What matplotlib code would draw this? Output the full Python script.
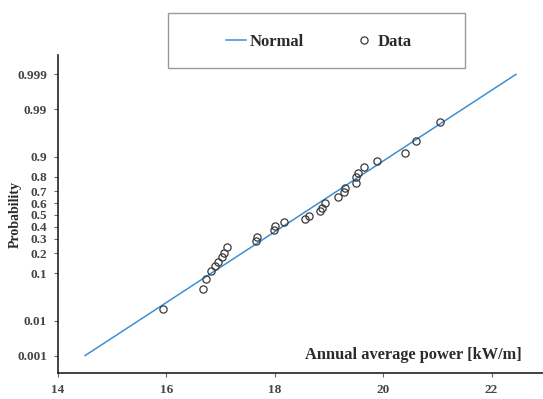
import math
import statistics
import numpy as np
import matplotlib
matplotlib.use("Agg")
import matplotlib.pyplot as plt
from matplotlib.ticker import NullLocator, FixedLocator
from matplotlib.patches import Rectangle

# ---------------- data ----------------
power_kw = [15.94, 16.67, 16.74, 16.82, 16.89, 16.95, 17.02, 17.06, 17.11, 17.65,
            17.68, 17.98, 18.00, 18.17, 18.56, 18.63, 18.83, 18.88, 18.93, 19.17,
            19.28, 19.30, 19.50, 19.50, 19.54, 19.64, 19.88, 20.40, 20.60, 21.05]
probability = [0.019, 0.052, 0.080, 0.109, 0.131, 0.151, 0.178, 0.202, 0.244, 0.284,
               0.314, 0.371, 0.404, 0.439, 0.465, 0.491, 0.531, 0.561, 0.600, 0.650,
               0.693, 0.723, 0.759, 0.798, 0.822, 0.854, 0.882, 0.914, 0.947, 0.980]
normal_x = [14.5, 22.45]
normal_p = [0.001, 0.999]
y_ticks = [0.001, 0.01, 0.1, 0.2, 0.3, 0.4, 0.5, 0.6, 0.7, 0.8, 0.9, 0.99, 0.999]
y_tick_labels = ["0.001", "0.01", "0.1", "0.2", "0.3", "0.4", "0.5", "0.6", "0.7",
                 "0.8", "0.9", "0.99", "0.999"]
x_ticks = [14, 16, 18, 20, 22]

# ---------------- probit scale ----------------
_nd = statistics.NormalDist()


def _ppf(p):
    p = np.asarray(p, dtype=float)
    out = np.full(p.shape, np.nan)
    ok = np.isfinite(p)
    pc = np.clip(p[ok], 1e-12, 1 - 1e-12)
    out[ok] = [_nd.inv_cdf(float(v)) for v in pc]
    return out


_cdf = np.vectorize(lambda z: 0.5 * (1.0 + math.erf(z / math.sqrt(2.0))), otypes=[float])

# ---------------- figure ----------------
W, H = 543, 399
fig = plt.figure(figsize=(W / 100, H / 100), dpi=100)
ax = fig.add_axes([58 / W, 1 - 373 / H, 1 - 58 / W, (373 - 55) / H])

FONT = "Liberation Serif"
TXT = "#2b2b2b"

line, = ax.plot(normal_x, normal_p, color="#3d8fd6", lw=1.1, label="Normal", zorder=2)
pts, = ax.plot(power_kw, probability, ls="none", marker="o", ms=5.2, mfc="none",
               mec="#3a3a3a", mew=0.9, label="Data", zorder=3)

ax.set_yscale("function", functions=(_ppf, _cdf))
ax.set_ylim(_cdf(-3.473), _cdf(3.516))
ax.set_xlim(14, 22.95)

ax.yaxis.set_major_locator(FixedLocator(y_ticks))
ax.yaxis.set_minor_locator(NullLocator())
ax.set_yticklabels(y_tick_labels)
ax.set_xticks(x_ticks)
ax.xaxis.set_minor_locator(NullLocator())

for s in ["top", "right"]:
    ax.spines[s].set_visible(False)
for s in ["left", "bottom"]:
    ax.spines[s].set_color("#222222")
    ax.spines[s].set_linewidth(1.2)

ax.tick_params(axis="y", direction="out", length=3, width=0.8, color="#666666", pad=5,
               labelsize=9.5, labelcolor="#444444")
ax.tick_params(axis="x", direction="out", length=3, width=0.8, color="#666666", pad=5,
               labelsize=9.5, labelcolor="#444444")
for lab in ax.get_xticklabels() + ax.get_yticklabels():
    lab.set_fontfamily(FONT)
    lab.set_fontweight("bold")

ax.set_xlabel("Annual average power [kW/m]", fontfamily=FONT, fontweight="bold",
              fontsize=11.8, color=TXT)
ax.xaxis.label.set_ha("right")
ax.xaxis.label.set_va("center")
ax.xaxis.set_label_coords((522 - 58) / (W - 58), (373 - 355) / (373 - 55))

ax.set_ylabel("Probability", fontfamily=FONT, fontweight="bold", fontsize=10, color=TXT)
ax.yaxis.label.set_va("center")
ax.yaxis.set_label_coords((15 - 58) / (W - 58), (373 - 215) / (373 - 55))

# legend box
fig.patches.append(Rectangle((168 / W, 1 - 68 / H), (465 - 168) / W, (68 - 13) / H,
                             transform=fig.transFigure, fill=True, facecolor="white",
                             edgecolor="#999999", lw=1.0, zorder=5))
leg = fig.legend(handles=[line, pts], loc="center", bbox_to_anchor=(319 / W, 1 - 42 / H),
                 ncol=2, frameon=False, columnspacing=3.0, handlelength=1.2,
                 handletextpad=0.2, prop={"family": FONT, "weight": "bold", "size": 12})
leg.set_zorder(6)
for t in leg.get_texts():
    t.set_color(TXT)

fig.savefig("out.png", dpi=100)
